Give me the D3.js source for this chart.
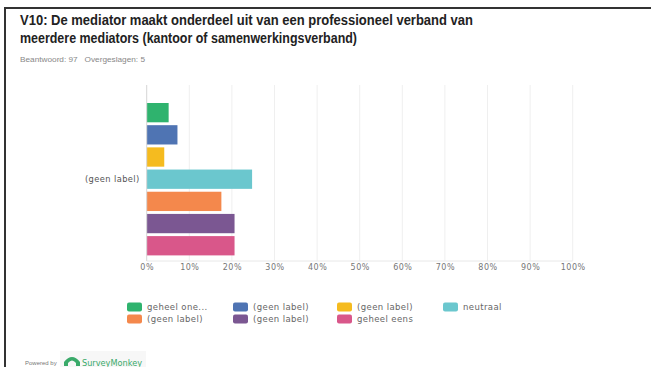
<!DOCTYPE html>
<html>
<head>
<meta charset="utf-8">
<script src="https://cdn.jsdelivr.net/npm/d3@7"></script>
<style>
  html, body { margin: 0; padding: 0; background: #ffffff; }
  svg { display: block; }
</style>
</head>
<body>
<svg id="chart" width="651" height="367"></svg>
<script>
// Survey question V10 — share of respondents per answer option (percent of 97 answers)
const titleLines = [
  "V10: De mediator maakt onderdeel uit van een professioneel verband van",
  "meerdere mediators (kantoor of samenwerkingsverband)"
];
const answeredText = "Beantwoord: 97   Overgeslagen: 5";
const categories = ["(geen label)"];
const seriesNames = ["geheel one...", "(geen label)", "(geen label)", "neutraal", "(geen label)", "(geen label)", "geheel eens"];
const seriesValues = [5.15, 7.22, 4.12, 24.74, 17.53, 20.62, 20.62];
const seriesColors = ["#2fb36e", "#4f74b3", "#f5bb1f", "#6bc7ce", "#f4884c", "#7b5792", "#d9578a"];
const tickValues = [0, 10, 20, 30, 40, 50, 60, 70, 80, 90, 100];

const svg = d3.select("#chart");
const labelFont = "DejaVu Sans, Verdana, sans-serif";

// card frame (top and left edges)
svg.append("line").attr("x1", 5).attr("x2", 651).attr("y1", 8).attr("y2", 8)
  .attr("stroke", "#333").attr("stroke-width", 2);
svg.append("line").attr("x1", 5).attr("x2", 5).attr("y1", 7).attr("y2", 367)
  .attr("stroke", "#333").attr("stroke-width", 2);

// title
const titleWidths = [453, 337];
titleLines.forEach((t, i) => {
  svg.append("text")
    .attr("x", 20).attr("y", 25 + i * 18)
    .attr("font-family", "Liberation Sans, Arial, sans-serif")
    .attr("font-weight", "bold").attr("font-size", 14.5)
    .attr("fill", "#222")
    .attr("textLength", titleWidths[i]).attr("lengthAdjust", "spacingAndGlyphs")
    .text(t);
});
svg.append("text")
  .attr("x", 20).attr("y", 62)
  .attr("font-family", "Liberation Sans, Arial, sans-serif")
  .attr("font-size", 7.5).attr("fill", "#888")
  .attr("xml:space", "preserve")
  .attr("textLength", 125).attr("lengthAdjust", "spacingAndGlyphs")
  .text(answeredText);

// plot area
const plot = { left: 146.7, right: 572.7, top: 85, bottom: 261 };
const x = d3.scaleLinear().domain([0, 100]).range([plot.left, plot.right]);
const y = d3.scaleBand().domain(categories).range([103, 255.4]);
const ySeries = d3.scaleBand().domain(d3.range(seriesValues.length))
  .range([y(categories[0]), y(categories[0]) + y.bandwidth()])
  .paddingInner(0.13);

const g = svg.append("g");

// vertical grid lines
g.selectAll(".grid").data(tickValues.slice(1)).enter().append("line")
  .attr("x1", d => x(d)).attr("x2", d => x(d))
  .attr("y1", plot.top).attr("y2", plot.bottom)
  .attr("stroke", "#efefef").attr("stroke-width", 1);

// bottom axis line
g.append("line").attr("x1", plot.left).attr("x2", plot.right)
  .attr("y1", plot.bottom).attr("y2", plot.bottom)
  .attr("stroke", "#e8e8e8").attr("stroke-width", 1);

// bars
g.selectAll(".bar").data(seriesValues).enter().append("rect")
  .attr("x", x(0))
  .attr("y", (d, i) => ySeries(i))
  .attr("width", d => x(d) - x(0))
  .attr("height", ySeries.bandwidth())
  .attr("fill", (d, i) => seriesColors[i]);

// zero line
g.append("line").attr("x1", x(0)).attr("x2", x(0))
  .attr("y1", plot.top).attr("y2", plot.bottom)
  .attr("stroke", "#d6d6d6").attr("stroke-width", 1);

// x axis tick labels
const xAxis = d3.axisBottom(x).tickValues(tickValues).tickSize(0).tickPadding(0)
  .tickFormat(d => d + "%");
const ax = svg.append("g").attr("transform", `translate(0,${plot.bottom + 3})`).call(xAxis);
ax.select(".domain").remove();
ax.selectAll("text")
  .attr("font-family", labelFont)
  .attr("font-size", 8).attr("fill", "#777").attr("letter-spacing", 0.5);

// category label
const yAxis = d3.axisLeft(y).tickSize(0).tickPadding(7);
const ay = svg.append("g").attr("transform", `translate(${plot.left},0)`).call(yAxis);
ay.select(".domain").remove();
ay.selectAll("text")
  .attr("font-family", labelFont)
  .attr("font-size", 8.3).attr("fill", "#555").attr("letter-spacing", 0.4);

// legend
const legendCols = [127, 233, 337, 443];
const legendRows = [307, 319];
const legend = svg.append("g");
seriesNames.forEach((name, k) => {
  const col = k < 4 ? k : k - 4;
  const row = k < 4 ? 0 : 1;
  const lx = legendCols[col], ly = legendRows[row];
  legend.append("rect")
    .attr("x", lx).attr("y", ly - 4.5).attr("width", 15).attr("height", 9)
    .attr("rx", 2).attr("fill", seriesColors[k]);
  legend.append("text")
    .attr("x", lx + 20).attr("y", ly).attr("dy", "0.35em")
    .attr("font-family", labelFont)
    .attr("font-size", 8.5).attr("fill", "#666").attr("letter-spacing", 0.4)
    .text(name);
});

// footer
svg.append("rect").attr("x", 60).attr("y", 351).attr("width", 86).attr("height", 16).attr("fill", "#f7f7f7");
svg.append("text")
  .attr("x", 25).attr("y", 365)
  .attr("font-family", "Liberation Sans, Arial, sans-serif")
  .attr("font-size", 6).attr("fill", "#777")
  .text("Powered by");
svg.append("path")
  .attr("d", "M64,366 L64,362 Q72,352 80,362 L80,366 L76,366 L76,363 Q72,358 68,363 L68,366 Z")
  .attr("fill", "#3aaa6a");
svg.append("text")
  .attr("x", 82).attr("y", 366)
  .attr("font-family", labelFont)
  .attr("font-size", 8).attr("fill", "#3aaa6a")
  .attr("textLength", 60).attr("lengthAdjust", "spacingAndGlyphs")
  .text("SurveyMonkey");
</script>
</body>
</html>
